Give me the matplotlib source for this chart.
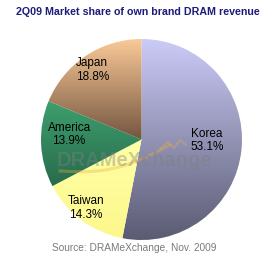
import numpy as np
import matplotlib.pyplot as plt
from matplotlib.colors import LinearSegmentedColormap

# Données : part de marché DRAM (marque propre), 2Q09
regions = ['Korea', 'Taiwan', 'America', 'Japan']
parts = [53.1, 14.3, 13.9, 18.8]

# Dégradés (haut, bas) pour chaque secteur
couleurs = [('#cbcbf8', '#5a5a72'),
            ('#ffffa6', '#fdf88c'),
            ('#3d9f6d', '#286b4c'),
            ('#fbca98', '#745640')]
# position des étiquettes (en fraction du rayon, par rapport au centre)
pos_labels = [(0.65, -0.01), (-0.55, -0.68), (-0.72, 0.05), (-0.49, 0.69)]

W, H = 274, 257
fig = plt.figure(figsize=(W / 100, H / 100), dpi=100)
ax = fig.add_axes([0, 0, 1, 1])

cx, cy, R = 141.5, H - 139.5, 100.5

wedges, _ = ax.pie(parts, startangle=90, counterclock=False,
                   center=(cx, cy), radius=R, frame=True,
                   wedgeprops=dict(facecolor='none', edgecolor='none'))
ax.set_xlim(0, W)
ax.set_ylim(0, H)
ax.axis('off')

grad = np.linspace(1, 0, 256).reshape(-1, 1)
for w, (c_haut, c_bas) in zip(wedges, couleurs):
    # étendue verticale du secteur
    verts = w.get_path().vertices
    y0, y1 = verts[:, 1].min(), verts[:, 1].max()
    cmap = LinearSegmentedColormap.from_list('g', [c_bas, c_haut])
    im = ax.imshow(grad, cmap=cmap, aspect='auto', origin='upper',
                   extent=(cx - R, cx + R, y0, y1), zorder=1)
    im.set_clip_path(w)

# Filigrane
t = np.linspace(0, 1, 60)
ax.plot(60 + 110 * t, H - (171 - 26 * t + 10 * np.sin(np.pi * t)),
        color='#e8b040', alpha=0.35, lw=2.2, zorder=3)
ax.plot([160, 168, 174, 180, 186], [H - 149, H - 142, H - 148, H - 140, H - 145],
        color='#e8b040', alpha=0.35, lw=1.5, zorder=3)
ax.text(cx - 7, H - 160, 'DRAMeXchange', ha='center', va='center',
        fontsize=14.5, fontweight='bold', color='#808080', alpha=0.4,
        family='Liberation Sans', zorder=3)

# Étiquettes
for nom, p, (dx, dy) in zip(regions, parts, pos_labels):
    ax.text(cx + dx * R, cy + dy * R, f'{nom}\n{p:.1f}%', ha='center',
            va='center', fontsize=8.5, family='Liberation Sans',
            color='black', linespacing=1.2, zorder=4)

ax.text(W / 2 + 1, H - 12, '2Q09 Market share of own brand DRAM revenue',
        ha='center', va='center', fontsize=7.7, fontweight='bold',
        color='#1c1c7a', family='Liberation Sans')
ax.text(134, H - 248, 'Source: DRAMeXchange, Nov. 2009', ha='center',
        va='center', fontsize=7.3, color='#7a7a7a', family='Liberation Sans')

fig.savefig('out.png', dpi=100)
